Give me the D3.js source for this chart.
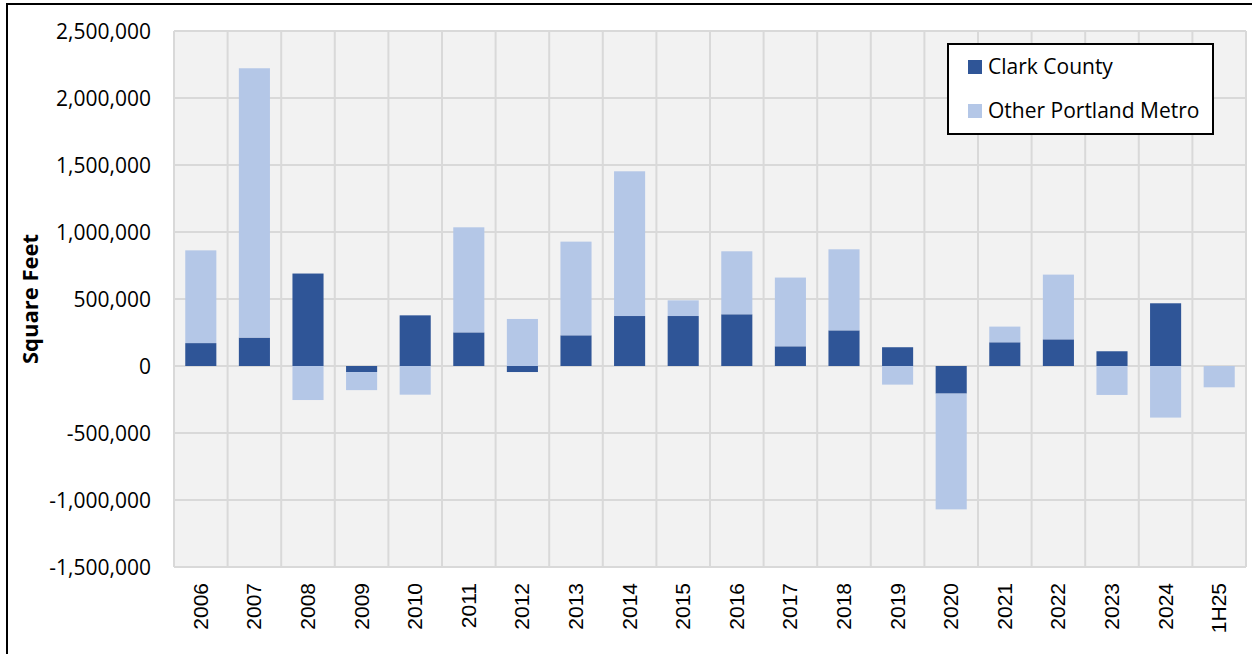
<!DOCTYPE html>
<html>
<head>
<meta charset="utf-8" />
<script src="https://cdn.jsdelivr.net/npm/d3@7"></script>
<style>
  body { margin: 0; background: #ffffff; }
  .ytick { font-family: "Open Sans", sans-serif; font-size: 21px; fill: #000; }
  .xtick { font-family: "Liberation Sans", Arial, sans-serif; font-size: 21px; fill: #000; }
  .ytitle { font-family: "Open Sans", sans-serif; font-size: 22px; font-weight: bold; fill: #000; }
  .legend text { font-family: "Open Sans", sans-serif; font-size: 21px; fill: #000; }
</style>
</head>
<body>
<svg width="1252" height="654"></svg>
<script>
// categories and series
var years = ["2006","2007","2008","2009","2010","2011","2012","2013","2014","2015",
             "2016","2017","2018","2019","2020","2021","2022","2023","2024","1H25"];
var clarkCounty = [171000, 212000, 690000, -45000, 378000, 251000, -45000, 229000, 373000, 373000,
                   386000, 147000, 266000, 140000, -206000, 177000, 199000, 110000, 468000, 0];
var otherPortland = [692000, 2010000, -254000, -135000, -214000, 784000, 351000, 699000, 1080000, 117000,
                     470000, 513000, 605000, -139000, -864000, 117000, 483000, -216000, -385000, -159000];
var yTicks = [2500000, 2000000, 1500000, 1000000, 500000, 0, -500000, -1000000, -1500000];
var seriesNames = ["Clark County", "Other Portland Metro"];
var colors = ["#2f5597", "#b4c7e7"];

var svg = d3.select("svg");
var plotLeft = 174, plotRight = 1246, plotTop = 31, plotBottom = 567;

var x = d3.scaleBand().domain(years).range([plotLeft, plotRight]).paddingInner(0.42).paddingOuter(0.21);
var y = d3.scaleLinear().domain([-1500000, 2500000]).range([plotBottom, plotTop]);

// outer frame of the clipped figure
svg.append("line").attr("x1", 7).attr("x2", 1252).attr("y1", 4).attr("y2", 4)
  .attr("stroke", "#000").attr("stroke-width", 2);
svg.append("line").attr("x1", 7).attr("x2", 7).attr("y1", 3).attr("y2", 654)
  .attr("stroke", "#000").attr("stroke-width", 2);

// plot background
svg.append("rect").attr("x", plotLeft).attr("y", plotTop)
  .attr("width", plotRight - plotLeft).attr("height", plotBottom - plotTop).attr("fill", "#f2f2f2");

// gridlines
var grid = svg.append("g").attr("stroke", "#d9d9d9").attr("stroke-width", 2);
grid.selectAll(".hg").data(yTicks).enter().append("line")
  .attr("x1", plotLeft).attr("x2", plotRight)
  .attr("y1", function(d) { return y(d); }).attr("y2", function(d) { return y(d); });
var step = x.step();
var bounds = d3.range(years.length + 1).map(function(i) { return plotLeft + i * step; });
grid.selectAll(".vg").data(bounds).enter().append("line")
  .attr("x1", function(d) { return d; }).attr("x2", function(d) { return d; })
  .attr("y1", plotTop).attr("y2", plotBottom);

// stacked (diverging) bars
var table = years.map(function(yr, i) {
  return { year: yr, "Clark County": clarkCounty[i], "Other Portland Metro": otherPortland[i] };
});
var stack = d3.stack().keys(seriesNames).offset(d3.stackOffsetDiverging);
var layers = stack(table);

svg.selectAll(".layer").data(layers).enter().append("g")
  .attr("class", "layer")
  .attr("fill", function(d, i) { return colors[i]; })
  .selectAll("rect").data(function(d) { return d; }).enter().append("rect")
  .attr("x", function(d) { return x(d.data.year); })
  .attr("width", x.bandwidth())
  .attr("y", function(d) { return y(Math.max(d[0], d[1])); })
  .attr("height", function(d) { return Math.abs(y(d[0]) - y(d[1])); });

// y axis labels (plain hyphen for negatives, like Excel)
var fmt = d3.format(",");
var yAxis = d3.axisLeft(y).tickValues(yTicks).tickSize(0).tickPadding(0)
  .tickFormat(function(d) { return fmt(d).replace("\u2212", "-"); });
var ya = svg.append("g").attr("transform", "translate(151,0)").call(yAxis);
ya.select(".domain").remove();
ya.selectAll("text").attr("class", "ytick").attr("font-family", null).attr("font-size", null).attr("dy", "0.35em");

// x axis labels
var xa = svg.append("g");
xa.selectAll("text").data(years).enter().append("text")
  .attr("class", "xtick")
  .attr("text-anchor", "end")
  .attr("transform", function(d) {
    return "translate(" + (x(d) + x.bandwidth() / 2 + 7) + ",583) rotate(-90)";
  })
  .text(function(d) { return d; });

// y axis title
svg.append("text").attr("class", "ytitle")
  .attr("text-anchor", "middle")
  .attr("transform", "translate(38,299) rotate(-90)")
  .text("Square Feet");

// legend
var lg = svg.append("g").attr("class", "legend");
lg.append("rect").attr("x", 948).attr("y", 44).attr("width", 265).attr("height", 90)
  .attr("fill", "#fff").attr("stroke", "#000").attr("stroke-width", 2);
var items = lg.selectAll(".item").data(seriesNames).enter().append("g")
  .attr("transform", function(d, i) { return "translate(968," + (67 + i * 44) + ")"; });
items.append("rect").attr("x", 0).attr("y", -7).attr("width", 14).attr("height", 14)
  .attr("fill", function(d, i) { return colors[i]; });
items.append("text").attr("x", 20).attr("dy", "0.35em").text(function(d) { return d; });
</script>
</body>
</html>
